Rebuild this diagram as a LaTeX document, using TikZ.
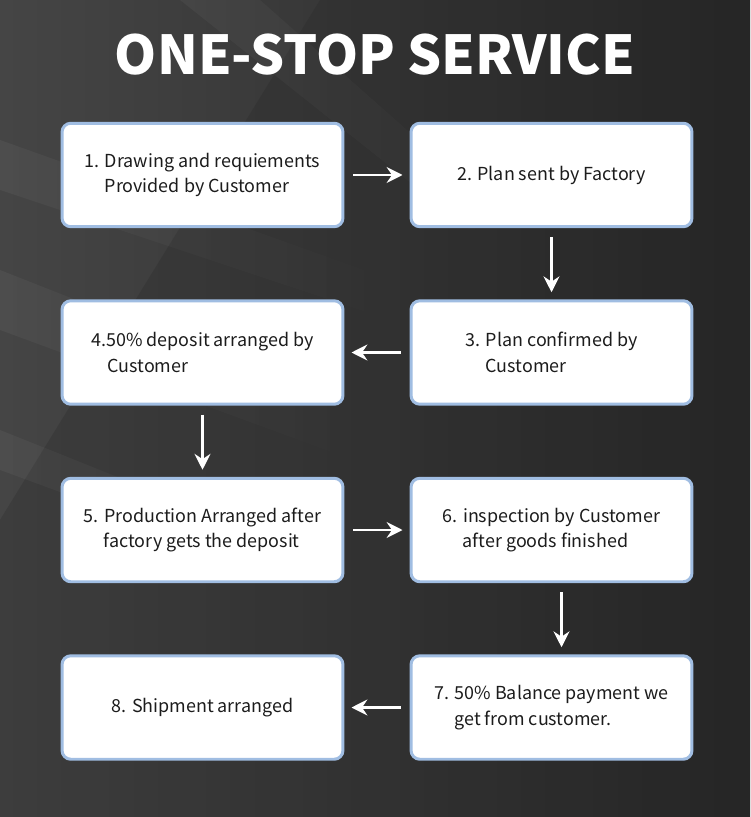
\documentclass[tikz,border=0pt]{standalone}
\usepackage{fontspec}
\setmainfont{Noto Sans CJK SC}
\usetikzlibrary{arrows.meta,fadings}

\definecolor{bgdark}{HTML}{262626}
\definecolor{bglight}{HTML}{454545}
\definecolor{boxline}{RGB}{160,189,226}
\definecolor{boxtext}{HTML}{1C1C1C}

\tikzset{
  stepbox/.style={draw=boxline, line width=1.7pt, fill=white, rounded corners=5pt,
    minimum width=5.62cm, minimum height=2.07cm, align=left, text=boxtext,
    font=\fontsize{10.2}{14.6}\selectfont},
  flow/.style={draw=white, line width=1.6pt, -{Stealth[length=9pt,width=9pt,inset=3pt]}},
  streak/.style={white, fill opacity=0.045, path fading=east},
}

\begin{document}
\begin{tikzpicture}[x=0.02cm, y=-0.02cm]
  % background
  \shade[shading angle=135, left color=bglight, right color=bgdark] (0,0) rectangle (750,817);
  \fill[bgdark, fill opacity=0.25] (320,0) -- (750,0) -- (750,817) -- (0,817) -- (0,520) -- cycle;
  \fill[streak] (0,140) -- (0,190) -- (420,330) -- (420,290) -- cycle;
  \fill[streak] (0,270) -- (0,330) -- (380,470) -- (380,420) -- cycle;
  \fill[streak] (0,430) -- (0,470) -- (300,580) -- (300,550) -- cycle;
  \fill[streak] (180,0) -- (260,0) -- (520,230) -- (470,230) -- cycle;
  \useasboundingbox (0,0) rectangle (750,817);

  \node[text=white, font=\fontsize{30.5}{34}\bfseries\selectfont] (title) at (375,55) {ONE-STOP SERVICE};

  \node[stepbox] (b1) at (202.5,175) {1. Drawing and requiements\\\hspace*{0.4cm}Provided by Customer};
  \node[stepbox] (b2) at (551.5,175) {2. Plan sent by Factory};
  \node[stepbox] (b3) at (551.5,352.5) {3. Plan confirmed by\\\hspace*{0.4cm}Customer};
  \node[stepbox] (b4) at (202.5,352.5) {4.50\% deposit arranged by\\\hspace*{0.32cm}Customer};
  \node[stepbox] (b5) at (202.5,530) {5. Production Arranged after\\\hspace*{0.4cm}factory gets the deposit};
  \node[stepbox] (b6) at (551.5,530) {6. inspection by Customer\\\hspace*{0.4cm}after goods finished};
  \node[stepbox] (b7) at (551.5,707.5) {7. 50\% Balance payment we\\\hspace*{0.4cm}get from customer.};
  \node[stepbox] (b8) at (202.5,707.5) {8. Shipment arranged};

  \draw[flow, shorten <=5pt, shorten >=4pt] (b1.east) -- (b2.west);
  \draw[flow, shorten <=5pt, shorten >=4pt] (b2.south) -- (b3.north);
  \draw[flow, shorten <=5pt, shorten >=4pt] (b3.west) -- (b4.east);
  \draw[flow, shorten <=5pt, shorten >=4pt] (b4.south) -- (b5.north);
  \draw[flow, shorten <=5pt, shorten >=4pt] (b5.east) -- (b6.west);
  \draw[flow, shorten <=5pt, shorten >=4pt] ([xshift=0.2cm]b6.south) -- ([xshift=0.2cm]b7.north);
  \draw[flow, shorten <=5pt, shorten >=4pt] (b7.west) -- (b8.east);
\end{tikzpicture}
\end{document}
